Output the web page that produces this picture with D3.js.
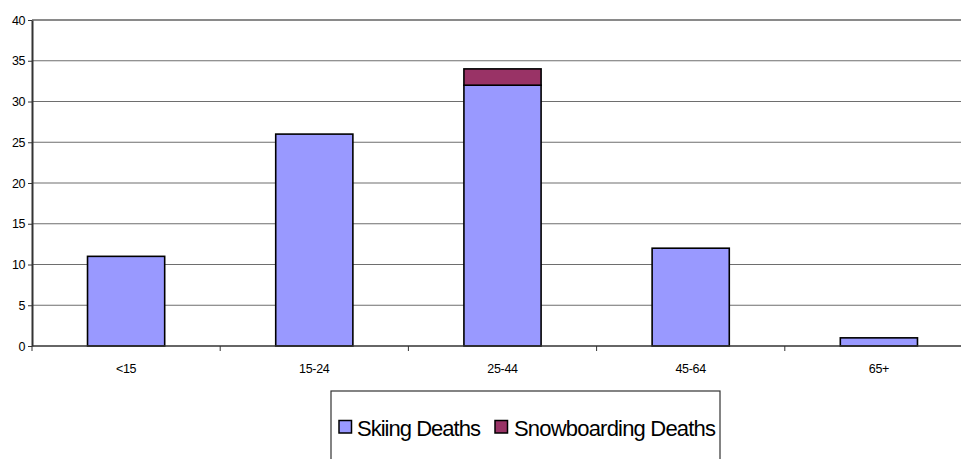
<!DOCTYPE html>
<html><head><meta charset="utf-8">
<script src="https://cdn.jsdelivr.net/npm/d3@7"></script>
<style>body{margin:0;background:#fff;}svg{display:block;}</style>
</head><body>
<script>
const categories = ["<15", "15-24", "25-44", "45-64", "65+"];
const skiing = [11, 26, 32, 12, 1];
const snowboarding = [0, 0, 2, 0, 0];
const seriesNames = ["Skiing Deaths", "Snowboarding Deaths"];
const seriesColors = ["#9999FF", "#993366"];
const yTicks = [0, 5, 10, 15, 20, 25, 30, 35, 40];

(function () {
const W = 961, H = 459;
const FONT = "'Liberation Sans', Arial, sans-serif";
const svg = d3.select("body").append("svg").attr("width", W).attr("height", H);
const pLeft = 32, pTop = 20, pBottom = 346, pRight = 973;

const x = d3.scaleBand().domain(categories).range([pLeft, pRight]).paddingInner(0).paddingOuter(0);
const y = d3.scaleLinear().domain([0, 40]).range([pBottom, pTop]);

// gridlines
svg.append("g").selectAll("line").data(yTicks.filter(d => d > 0)).join("line")
  .attr("x1", pLeft).attr("x2", pRight)
  .attr("y1", d => y(d)).attr("y2", d => y(d))
  .attr("stroke", d => d === 40 ? "#8a8a8a" : "#6e6e6e")
  .attr("stroke-width", d => d === 40 ? 2 : 1.2);

const table = categories.map((c, i) => ({cat: c, ski: skiing[i], snow: snowboarding[i]}));
const stack = d3.stack().keys(["ski", "snow"])(table);

const barW = x.bandwidth() * 0.41;
stack.forEach((layer, li) => {
  svg.append("g").selectAll("rect").data(layer.filter(d => d[1] - d[0] > 0)).join("rect")
    .attr("x", d => x(d.data.cat) + x.bandwidth() / 2 - barW / 2)
    .attr("width", barW)
    .attr("y", d => y(d[1]))
    .attr("height", d => y(d[0]) - y(d[1]))
    .attr("fill", seriesColors[li])
    .attr("stroke", "#000").attr("stroke-width", 1.6);
});

// y axis
const yAxis = d3.axisLeft(y).tickValues(yTicks).tickSize(4).tickPadding(3).tickSizeOuter(0);
const gy = svg.append("g").attr("transform", `translate(${pLeft},0)`).call(yAxis);
gy.select(".domain").attr("stroke", "#333").attr("stroke-width", 2);
gy.selectAll(".tick line").attr("stroke", "#333");
gy.selectAll("text").attr("font-family", FONT).attr("font-size", 12.5).attr("fill", "#000").attr("letter-spacing", -0.4);

// x axis
const gx = svg.append("g").attr("transform", `translate(0,${pBottom})`);
gx.append("line").attr("x1", pLeft).attr("x2", pRight).attr("stroke", "#333").attr("stroke-width", 1.5);
const bounds = categories.map(c => x(c)).concat([pRight]);
gx.selectAll("line.t").data(bounds).join("line").attr("class", "t")
  .attr("x1", d => d).attr("x2", d => d).attr("y1", 0).attr("y2", 5).attr("stroke", "#333");
gx.selectAll("text").data(categories).join("text")
  .attr("x", d => x(d) + x.bandwidth() / 2).attr("y", 26.5)
  .attr("text-anchor", "middle")
  .attr("font-family", FONT).attr("font-size", 12.5).attr("letter-spacing", -0.3)
  .text(d => d);

// legend
const lg = svg.append("g");
lg.append("rect").attr("x", 331).attr("y", 391).attr("width", 389).attr("height", 80)
  .attr("fill", "none").attr("stroke", "#333").attr("stroke-width", 1.2);
const legendItems = [{x: 339, tx: 357, len: 124}, {x: 495, tx: 514, len: 202}];
seriesNames.forEach((n, i) => {
  lg.append("rect").attr("x", legendItems[i].x).attr("y", 420.5).attr("width", 12.5).attr("height", 12.5)
    .attr("fill", seriesColors[i]).attr("stroke", "#000").attr("stroke-width", 1.5);
  lg.append("text").attr("x", legendItems[i].tx).attr("y", 435.5)
    .attr("font-family", FONT).attr("font-size", 22)
    .attr("textLength", legendItems[i].len).attr("lengthAdjust", "spacing")
    .text(n);
});
})();
</script>
</body></html>
